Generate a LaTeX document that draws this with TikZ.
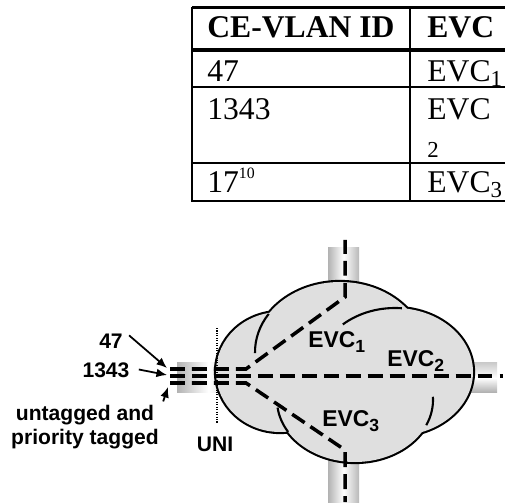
\documentclass[tikz,border=0pt]{standalone}
\usepackage{fontspec}
\setmainfont{Liberation Serif}
\setsansfont{Liberation Sans}
\usetikzlibrary{arrows.meta}

\newcommand{\tabfont}{\fontsize{18}{20}\selectfont}
\newcommand{\lblfont}{\sffamily\bfseries\fontsize{12}{14}\selectfont}
\newcommand{\evcsub}[1]{\raisebox{-2.5pt}{\fontsize{10}{10}\selectfont #1}}
\newcommand{\tabsub}[1]{\raisebox{-2.6pt}{\fontsize{13}{13}\selectfont #1}}

\tikzset{
  tabtext/.style={anchor=base west, inner sep=0pt, font=\tabfont},
  tabhead/.style={tabtext, font=\tabfont\bfseries},
  lbl/.style={inner sep=0pt, font=\lblfont},
  evclabel/.style={anchor=base west, inner sep=0pt, font=\sffamily\bfseries\fontsize{13}{13}\selectfont},
  evcline/.style={line width=2pt, dash pattern=on 8.5pt off 4pt},
  lblarrow/.style={-{Latex[length=6pt,width=5pt]}, line width=1pt},
  cloudline/.style={line width=1.2pt},
  pipev/.style={left color=gray!60, right color=gray!55, middle color=white},
  pipeh/.style={top color=gray!40, bottom color=gray!65, middle color=white}
}

\begin{document}
\begin{tikzpicture}[x=0.2mm,y=0.2mm]
\useasboundingbox (0,0) rectangle (505,502);

\draw[line width=1.7pt] (192,494) -- (505,494);
\draw[line width=2.3pt] (192,452) -- (505,452);
\foreach \y in {415,339,301} {\draw[line width=1.2pt] (192,\y) -- (505,\y);}
\draw[line width=1.2pt] (192,495) -- (192,300);
\draw[line width=1.2pt] (410,495) -- (410,300);
\node[tabhead] (hid) at (207,464) {CE-VLAN ID};
\node[tabhead] (hevc) at (427,464) {EVC};
\node[tabtext] (v47) at (207,420) {47};
\node[tabtext] (e47) at (427,420) {EVC\tabsub{1}};
\node[tabtext] (v1343) at (207,382) {1343};
\node[tabtext] (e1343) at (427,382) {EVC};
\node[tabtext, font=\fontsize{13}{13}\selectfont] (e1343b) at (427,344) {2};
\node[tabtext] (v17) at (207,309) {17\raisebox{8pt}{\fontsize{9}{9}\selectfont 10}};
\node[tabtext] (e17) at (427,309) {EVC\tabsub{3}};

\shade[pipev] (328,200) rectangle (359,254);
\shade[pipev] (328,0) rectangle (359,62);
\shade[pipeh] (440,109) rectangle (497,139);
\shade[left color=gray!60, right color=gray!50, middle color=white] (177,109) rectangle (240,139);

\foreach \cx/\cy/\rx/\ry in {280/130/64/60, 340/150/85/70, 395/130/78/64, 355/102/78/62}
  {\draw[line width=2.4pt] (\cx,\cy) ellipse [x radius=\rx, y radius=\ry];}
\foreach \cx/\cy/\rx/\ry in {280/130/64/60, 340/150/85/70, 395/130/78/64, 355/102/78/62}
  {\fill[gray!25] (\cx,\cy) ellipse [x radius=\rx, y radius=\ry];}
\draw[cloudline] ([shift={(147:85 and 70)}]340,150) arc[start angle=147, end angle=181, x radius=85, y radius=70];
\draw[cloudline] ([shift={(85:78 and 64)}]395,130) arc[start angle=85, end angle=132, x radius=78, y radius=64];
\draw[cloudline] ([shift={(-24:78 and 62)}]355,102) arc[start angle=-24, end angle=3, x radius=78, y radius=62];
\draw[cloudline] ([shift={(187:78 and 62)}]355,102) arc[start angle=187, end angle=211, x radius=78, y radius=62];

\coordinate (s1) at (170,133);
\coordinate (b1) at (246,133);
\coordinate (k1) at (345,205);
\coordinate (t1) at (345,262);
\coordinate (s2) at (170,126);
\coordinate (t2) at (503,126);
\coordinate (s3) at (170,119);
\coordinate (b3) at (246,119);
\coordinate (k3) at (345,52);
\coordinate (t3) at (345,0);
\draw[evcline] (s1) -- (b1) -- (k1) -- (t1);
\draw[evcline] (s2) -- (t2);
\draw[evcline] (s3) -- (b3) -- (k3) -- (t3);

\coordinate (unitop) at (217,174);
\coordinate (unibot) at (217,79);
\draw[line width=0.6pt, dash pattern=on 0.6pt off 0.8pt] (unitop) -- (unibot);

\node[lbl] (l47) at (111,161) {47};
\node[lbl] (l1343) at (106,131.5) {1343};
\node[lbl, align=center] (lun) at (85,75) {untagged and\\priority tagged};
\node[lbl] (luni) at (215,57.5) {UNI};
\coordinate (p47) at (167,134);
\coordinate (p1343) at (167,127);
\coordinate (pun) at (168,115);
\draw[lblarrow] ([shift={(6,-2)}]l47.north east) -- (p47);
\draw[lblarrow] ([shift={(9,1)}]l1343.east) -- (p1343);
\draw[lblarrow] ([shift={(4,3)}]lun.north east) -- (pun);

\node[evclabel] (evc1) at (308,154) {EVC\evcsub{1}};
\node[evclabel] (evc2) at (387,135) {EVC\evcsub{2}};
\node[evclabel] (evc3) at (322,75) {EVC\evcsub{3}};
\end{tikzpicture}
\end{document}
